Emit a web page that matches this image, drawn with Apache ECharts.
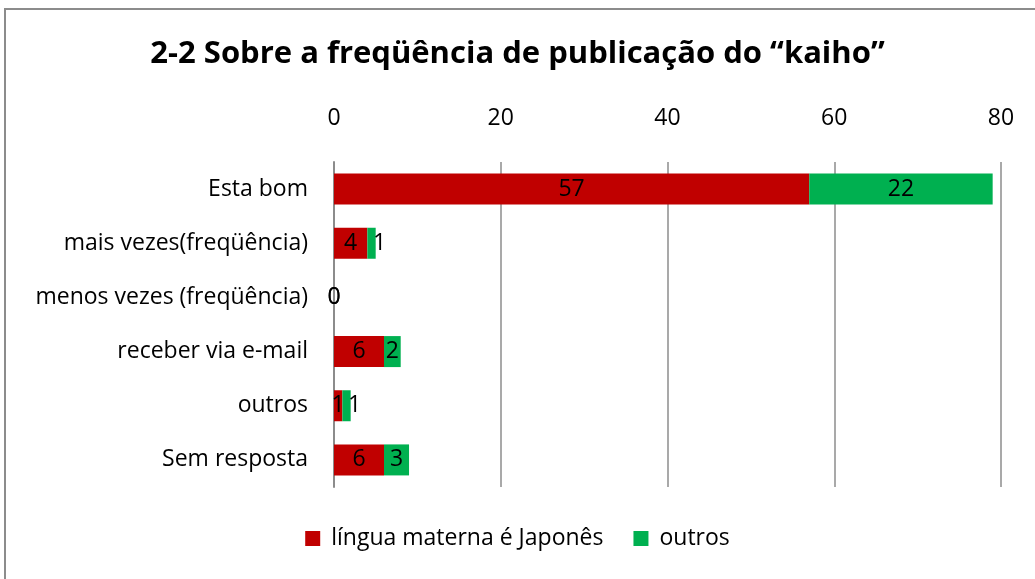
<!DOCTYPE html>
<html lang="pt">
<head>
    <meta charset="UTF-8">
    <title>2-2 Sobre a freqüência de publicação do “kaiho”</title>
    <script src="https://cdn.jsdelivr.net/npm/echarts@6.0.0/dist/echarts.min.js"></script>
    <style>
        body {
            margin: 0;
            padding: 0;
            background: #fff;
        }
        #chart {
            width: 1035px;
            height: 579px;
        }
        /* moldura do gráfico (só aparecem as bordas de cima e da esquerda) */
        #frame {
            position: absolute;
            left: 4px;
            top: 8px;
            width: 1100px;
            height: 600px;
            border-left: 2px solid #8c8c8c;
            border-top: 2px solid #8c8c8c;
            pointer-events: none;
        }
    </style>
</head>
<body>
    <div id="chart"></div>
    <div id="frame"></div>

    <script>
        // dados
        var categorias = ['Esta bom', 'mais vezes(freqüência)', 'menos vezes (freqüência)', 'receber via e-mail', 'outros', 'Sem resposta'];
        var japones = [57, 4, 0, 6, 1, 6];
        var outros = [22, 1, 0, 2, 1, 3];
        var nomesSeries = ['língua materna é Japonês', 'outros'];
        var ticks = [0, 20, 40, 60, 80];

        var fonte = '"Open Sans", "Noto Sans", sans-serif';
        var tam = 23;
        var chart = echarts.init(document.getElementById('chart'));

        var rotulo = {
            show: true,
            position: 'inside',
            color: '#000',
            fontSize: tam,
            fontFamily: fonte
        };

        // barras verdes muito finas (valor 1): rótulo empurrado para a direita, como no Excel
        var dadosOutros = outros.map(function (v) {
            return v === 1 ? { value: v, label: { offset: [8, 0] } } : v;
        });

        var option = {
            animation: false,
            title: {
                text: '2-2 Sobre a freqüência de publicação do “kaiho”',
                left: 'center',
                top: 34,
                textStyle: {
                    fontSize: 31,
                    fontWeight: 'bold',
                    fontFamily: fonte,
                    color: '#000'
                }
            },
            legend: {
                bottom: 24,
                left: 'center',
                itemWidth: 15,
                itemHeight: 15,
                itemGap: 30,
                icon: 'rect',
                textStyle: { fontSize: tam, fontFamily: fonte, color: '#000', padding: [0, 0, 0, 6] },
                data: nomesSeries
            },
            grid: {
                left: 334,
                right: 34,
                top: 162,
                bottom: 92
            },
            xAxis: {
                type: 'value',
                position: 'top',
                min: ticks[0],
                max: ticks[ticks.length - 1],
                interval: 20,
                axisLine: { show: false },
                axisTick: { show: false },
                axisLabel: {
                    margin: 32,
                    fontSize: tam,
                    fontFamily: fonte,
                    color: '#000'
                },
                splitLine: {
                    lineStyle: { color: '#8c8c8c', width: 1.5 }
                }
            },
            yAxis: {
                type: 'category',
                inverse: true,
                data: categorias,
                axisLine: { show: true, lineStyle: { color: '#8c8c8c', width: 2 } },
                axisTick: { show: false },
                axisLabel: {
                    margin: 26,
                    fontSize: tam,
                    fontFamily: fonte,
                    color: '#000'
                }
            },
            series: [
                {
                    name: nomesSeries[0],
                    type: 'bar',
                    stack: 'total',
                    barWidth: 31,
                    itemStyle: { color: '#C00000' },
                    label: rotulo,
                    data: japones
                },
                {
                    name: nomesSeries[1],
                    type: 'bar',
                    stack: 'total',
                    barWidth: 31,
                    itemStyle: { color: '#00B050' },
                    label: rotulo,
                    data: dadosOutros
                }
            ]
        };

        chart.setOption(option);
    </script>
</body>
</html>
